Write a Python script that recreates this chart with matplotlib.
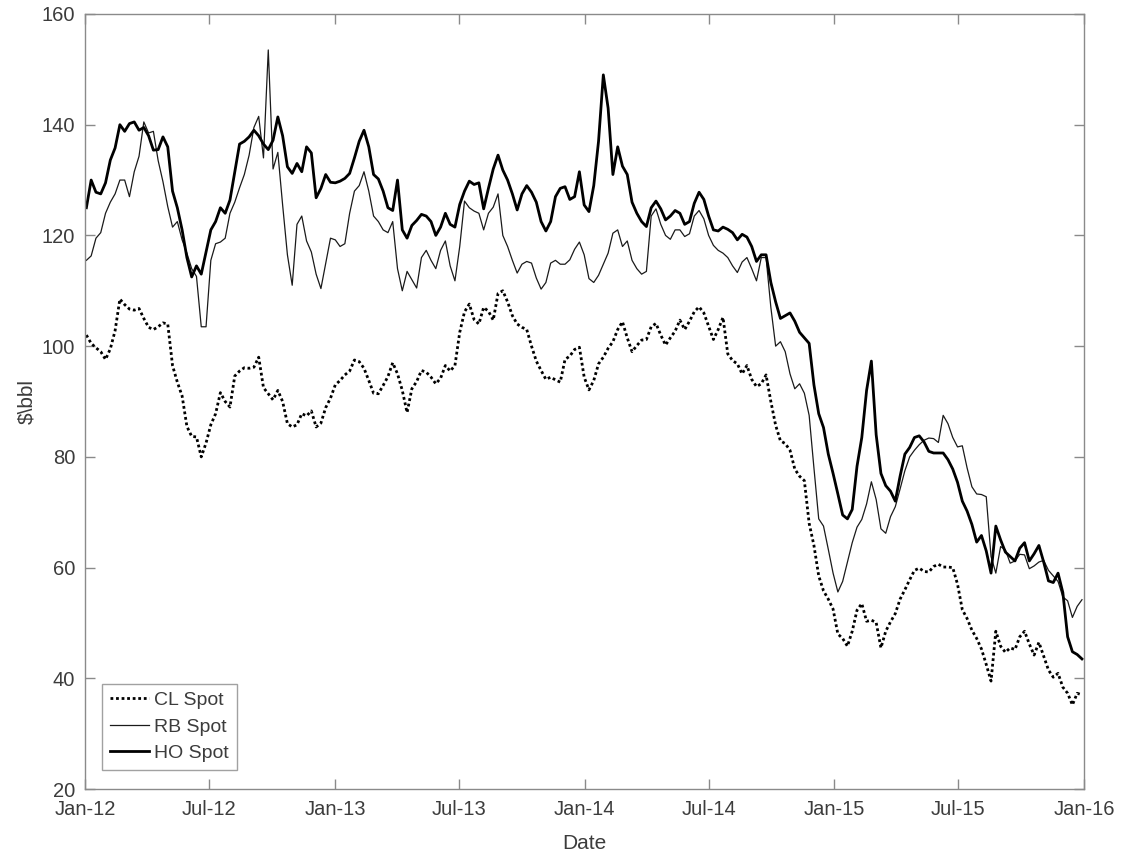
import matplotlib
matplotlib.use("Agg")
import matplotlib.pyplot as plt
import matplotlib.dates as mdates
import pandas as pd

# Weekly spot prices, $/bbl, Jan 2012 - Dec 2015
dates = pd.date_range("2012-01-03", periods=209, freq="7D")

cl_spot = [
    102, 100.5, 99.7, 99, 97.6, 99.5, 102.8, 108.5, 107.5, 106.7,
    106.5, 106.8, 105, 103.4, 103, 103.5, 104.2, 104, 96.5, 93.5,
    91, 85.5, 83.7, 83.6, 80, 82.5, 85.8, 87.8, 91.6, 90,
    89, 94.6, 95.5, 96.1, 96, 96.2, 98, 92.5, 91.4, 90.3,
    92, 90, 86, 85.4, 85.8, 87.8, 87.4, 88.3, 85.4, 86.1,
    88.9, 90.6, 93, 93.8, 94.8, 95.5, 97.5, 97.2, 96, 93.8,
    91.5, 91.4, 92.9, 94.5, 97, 95, 92, 88, 92.3, 93.6,
    95.6, 95.3, 94.4, 93.2, 94.2, 96.5, 95.5, 96.5, 102.5, 106.2,
    107.6, 104.8, 104, 107, 106.3, 104.7, 109.5, 110, 108, 105.5,
    104, 103.4, 103, 100, 97.3, 95.6, 94, 94.4, 93.9, 93.5,
    97.6, 98.2, 99.4, 99.8, 94.4, 92.1, 93.8, 96.8, 98, 99.6,
    100.8, 103, 104.4, 101.5, 99, 100.1, 101.1, 101.2, 103.5, 104.1,
    102, 100.2, 101.5, 102.7, 104.7, 103, 104.5, 106.2, 107.1, 106,
    103.6, 101.2, 103, 105.2, 98.6, 97.4, 96.8, 95, 96.5, 94,
    92.7, 93.2, 94.8, 90, 85.7, 82.9, 82.4, 81.2, 77.8, 76.5,
    75.7, 68, 64, 58.5, 55.8, 54.3, 52.5, 48, 47.2, 45.8,
    48.5, 52.3, 53.5, 50.3, 50.5, 50.1, 45.5, 48.5, 50.2, 51.7,
    54.3, 56, 57.8, 59.5, 59.9, 59.3, 59.2, 60.2, 60.6, 60.1,
    60.1, 60, 57, 52.4, 50.8, 48.7, 47.2, 45.3, 42.5, 39.5,
    48.5, 45.8, 44.7, 45.5, 45.2, 47.5, 48.5, 46.2, 44.2, 46.5,
    44, 41.5, 40.2, 40.9, 38.4, 37.3, 35.2, 37.3, 37,
]

rb_spot = [
    115.5, 116.3, 119.5, 120.5, 124, 126, 127.5, 130, 130, 127,
    131.5, 134.3, 140.5, 138.5, 138.8, 133.5, 129.7, 125.2, 121.5, 122.5,
    119.2, 116.8, 114, 112.6, 103.5, 103.5, 115.5, 118.5, 118.8, 119.5,
    124, 126, 128.6, 131, 134.5, 139.5, 141.5, 134, 153.5, 132,
    135, 125.5, 116.5, 111, 122, 123.5, 119, 117, 113, 110.4,
    115, 119.5, 119.2, 118, 118.5, 124, 128, 129, 131.5, 128,
    123.5, 122.5, 121, 120.5, 122.5, 114, 110, 113.5, 112, 110.5,
    116, 117.3, 115.5, 114, 117.3, 119, 114.5, 111.8, 118, 126.2,
    125, 124.4, 124, 121, 124, 125.1, 127.5, 120, 118, 115.5,
    113.2, 114.8, 115.3, 115, 112.3, 110.3, 111.5, 115, 115.5, 114.8,
    114.8, 115.6, 117.5, 118.8, 116.5, 112.2, 111.5, 112.8, 114.8, 116.8,
    120.4, 121, 118, 119, 115.5, 114, 113, 113.5, 123.5, 124.8,
    122, 120, 119.3, 121, 121, 119.8, 120.3, 123.5, 124.5, 123,
    120, 118.2, 117.3, 116.8, 116, 114.5, 113.3, 115.2, 116, 114,
    111.8, 116, 116, 107, 100, 100.8, 99, 95, 92.3, 93.2,
    91.5, 87.5, 78, 68.8, 67.5, 63.3, 59, 55.6, 57.5, 61,
    64.5, 67.3, 68.7, 71.5, 75.5, 72.3, 67, 66.2, 69.2, 71,
    74.2, 77.5, 80, 81.2, 82.2, 83, 83.4, 83.3, 82.6, 87.5,
    86, 83.5, 81.8, 82, 78, 74.6, 73.3, 73.2, 72.8, 62,
    59, 63.8, 63.2, 60.8, 61.2, 62.4, 62.3, 59.8, 60.3, 61,
    61.3, 59.5, 58.5, 57.5, 54.7, 54, 51, 53, 54.2,
]

ho_spot = [
    125, 130, 127.8, 127.5, 129.5, 133.6, 135.8, 140, 138.8, 140.2,
    140.5, 139, 139.5, 138, 135.4, 135.5, 137.8, 136, 128, 125,
    121, 116, 112.5, 114.5, 113, 117, 121, 122.5, 125, 124,
    126.4, 131.5, 136.5, 137, 137.8, 139, 138, 136.5, 135.5, 137.2,
    141.4, 138, 132.4, 131.2, 133, 131.5, 136, 134.9, 126.8, 128.5,
    131, 129.6, 129.5, 129.8, 130.3, 131.2, 134, 137, 139, 136,
    131, 130.2, 128, 125, 124.5, 130, 121, 119.5, 121.8, 122.7,
    123.8, 123.5, 122.5, 120, 121.5, 124, 122, 121.5, 125.6, 128,
    129.8, 129.2, 129.5, 124.8, 128.5, 132, 134.5, 131.8, 130, 127.5,
    124.6, 127.5, 129, 127.8, 126, 122.5, 120.8, 122.5, 127, 128.5,
    128.8, 126.5, 127, 131.5, 125.5, 124.3, 129, 137, 149, 143,
    131, 136, 132.5, 131, 126, 124, 122.5, 121.6, 125, 126.2,
    124.8, 122.8, 123.5, 124.5, 124, 122, 122.5, 125.8, 127.8, 126.5,
    123.5, 121, 120.8, 121.5, 121.1, 120.5, 119.2, 120.2, 119.7, 118,
    115.3, 116.5, 116.5, 111.5, 108, 105, 105.5, 106, 104.5, 102.5,
    101.5, 100.5, 93, 87.8, 85.3, 80.5, 77, 73.3, 69.5, 68.8,
    70.5, 78.3, 83.5, 92, 97.3, 84, 77, 74.8, 73.8, 72,
    76.5, 80.5, 81.7, 83.5, 83.8, 82.7, 81, 80.7, 80.7, 80.7,
    79.5, 77.8, 75.4, 72, 70.2, 67.8, 64.6, 65.8, 63, 59,
    67.5, 65, 62.8, 62, 61.2, 63.5, 64.5, 61.2, 62.5, 64,
    61, 57.6, 57.3, 59, 55.5, 47.5, 44.8, 44.3, 43.5,
]

series_labels = ["CL Spot", "RB Spot", "HO Spot"]
y_ticks = [20, 40, 60, 80, 100, 120, 140, 160]

axis_gray = "#8a8a8a"
text_gray = "#3c3c3c"

plt.rcParams["font.family"] = ["Liberation Sans", "DejaVu Sans"]

fig = plt.figure(figsize=(11.23, 8.57), dpi=100)
ax = fig.add_axes([0.0757, 0.0793, 0.8896, 0.9044])

ax.plot(dates, cl_spot, color="black", linestyle=(0, (1, 1)), linewidth=2.0,
        label=series_labels[0])
ax.plot(dates, rb_spot, color="#1a1a1a", linestyle="-", linewidth=0.9,
        label=series_labels[1])
ax.plot(dates, ho_spot, color="black", linestyle="-", linewidth=2.0,
        label=series_labels[2])

ax.set_xlim(pd.Timestamp("2012-01-01"), pd.Timestamp("2016-01-01"))
ax.set_ylim(20, 160)
ax.set_yticks(y_ticks)
ax.xaxis.set_major_locator(mdates.MonthLocator(bymonth=[1, 7]))
ax.xaxis.set_major_formatter(mdates.DateFormatter("%b-%y"))

for side in ["left", "right", "top", "bottom"]:
    ax.spines[side].set_color(axis_gray)
    ax.spines[side].set_linewidth(1.0)

ax.tick_params(axis="both", which="major", direction="in", length=7.5,
               width=1.0, color=axis_gray, labelcolor=text_gray,
               labelsize=14.5, top=True, right=True)
ax.tick_params(axis="x", pad=8)
ax.tick_params(axis="y", pad=7)

ax.set_xlabel("Date", fontsize=15, color=text_gray, labelpad=11)
ax.set_ylabel("$\\bbl", fontsize=15, color=text_gray, labelpad=4,
              parse_math=False)

leg = ax.legend(loc="lower left", bbox_to_anchor=(0.017, 0.025),
                fontsize=14, frameon=True, fancybox=False,
                handlelength=2.0, handletextpad=0.3, borderpad=0.4,
                labelspacing=0.45, borderaxespad=0.0)
leg.get_frame().set_edgecolor(axis_gray)
leg.get_frame().set_linewidth(1.0)
for t in leg.get_texts():
    t.set_color(text_gray)

fig.savefig("out.png", dpi=100, facecolor="white")
